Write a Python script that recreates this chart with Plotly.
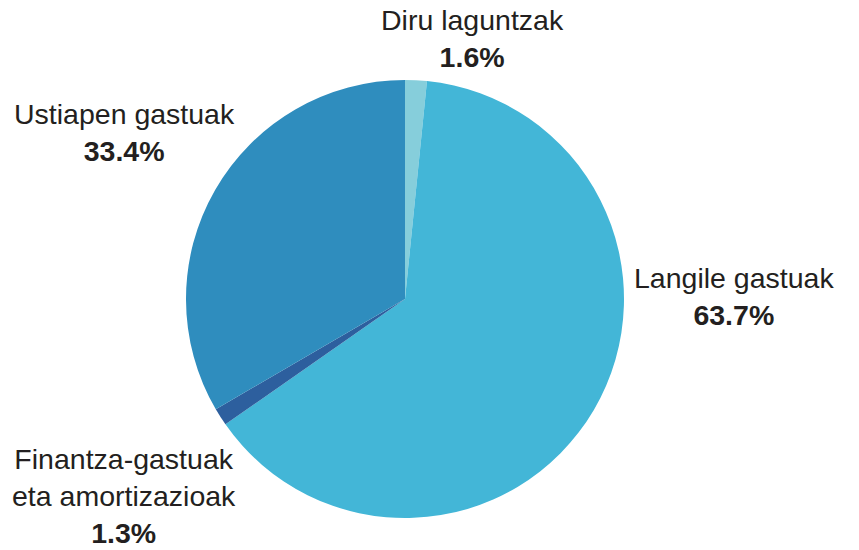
import plotly.graph_objects as go

labels = ["Diru laguntzak", "Langile gastuak", "Finantza-gastuak<br>eta amortizazioak", "Ustiapen gastuak"]
values = [1.6, 63.7, 1.3, 33.4]
colors = ["#86CEDB", "#43B6D7", "#2D5F9E", "#2F8DBE"]
label_pos = [(472, 38), (734, 296), (124, 496), (124, 132)]  # pixel centers of label blocks

W, H = 859, 550
cx, cy, r = 405, 299, 219

fig = go.Figure(go.Pie(
    labels=labels, values=values, sort=False, direction="clockwise", rotation=0,
    marker=dict(colors=colors, line=dict(width=0)),
    textinfo="none", hoverinfo="label+percent", showlegend=False,
    domain=dict(x=[(cx - r) / W, (cx + r) / W], y=[1 - (cy + r) / H, 1 - (cy - r) / H]),
))

anns = []
for lab, val, (x, y) in zip(labels, values, label_pos):
    anns.append(dict(
        x=x / W, y=1 - y / H, xref="paper", yref="paper", xanchor="center", yanchor="middle",
        text=f"{lab}<br><b>{val:.1f}%</b>", showarrow=False, align="center",
        font=dict(family="Liberation Sans, Arial, sans-serif", size=28.5, color="#231F20"),
    ))

fig.update_layout(
    width=W, height=H, margin=dict(l=0, r=0, t=0, b=0),
    paper_bgcolor="white", plot_bgcolor="white", annotations=anns,
)
fig.write_html("out.html", config={"displayModeBar": False},
               post_script="document.body.style.margin='0';document.body.style.overflow='hidden';")
